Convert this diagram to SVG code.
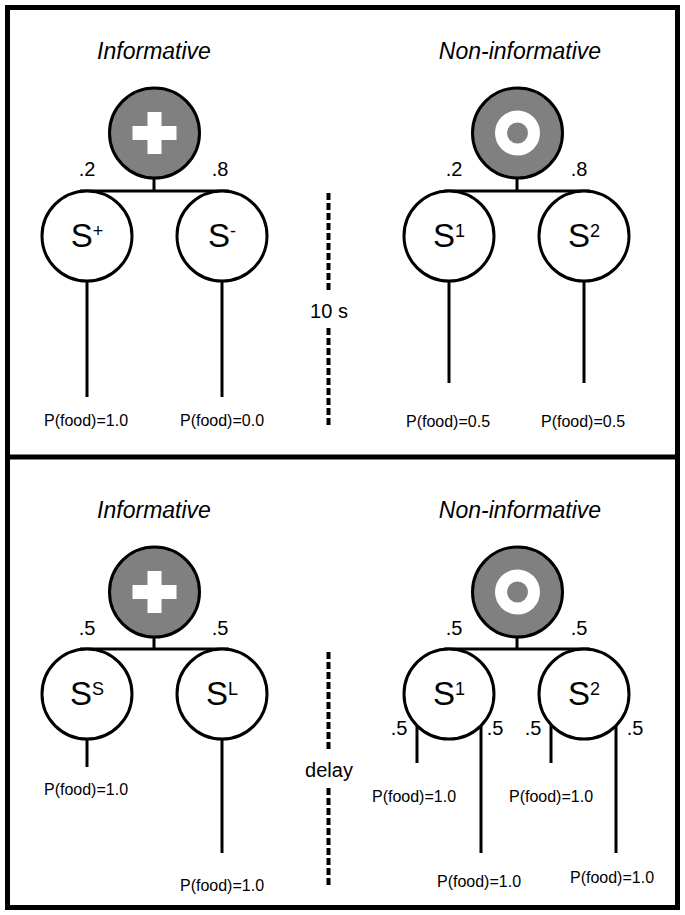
<svg xmlns="http://www.w3.org/2000/svg" width="685" height="915" viewBox="0 0 685 915">
<style>
  text { font-family: "Liberation Sans", Arial, sans-serif; fill: #000; }
  .title { font-size: 23px; font-style: italic; text-anchor: middle; }
  .prob { font-size: 20px; text-anchor: middle; }
  .food { font-size: 16px; text-anchor: middle; }
  .lbl { font-size: 33px; text-anchor: middle; }
  .sup { font-size: 18px; }
  .mid { font-size: 20px; text-anchor: middle; }
  .node { fill: #fff; stroke: #000; stroke-width: 3; }
  .start { fill: #808080; stroke: #000; stroke-width: 3; }
  .conn line { stroke: #000; stroke-width: 3; fill: none; }
  .dash { stroke: #000; stroke-width: 4; stroke-dasharray: 7 3; }
</style>
<rect x="0" y="0" width="685" height="915" fill="#fff"/>
<rect x="7.5" y="7.5" width="670" height="900" fill="none" stroke="#000" stroke-width="5"/>
<line x1="5" y1="457" x2="680" y2="457" stroke="#000" stroke-width="5"/>

<!-- connectors -->
<g class="conn" id="connectors">
  <!-- top left -->
  <line x1="154" y1="178" x2="154" y2="191"/>
  <line x1="80" y1="191" x2="229" y2="191"/>
  <line x1="87" y1="281" x2="87" y2="397"/>
  <line x1="222" y1="281" x2="222" y2="397"/>
  <!-- top right -->
  <line x1="517" y1="178" x2="517" y2="191"/>
  <line x1="444" y1="191" x2="590" y2="191"/>
  <line x1="449" y1="281" x2="449" y2="383"/>
  <line x1="584" y1="281" x2="584" y2="383"/>
  <!-- bottom left -->
  <line x1="154" y1="637" x2="154" y2="649"/>
  <line x1="80" y1="649" x2="229" y2="649"/>
  <line x1="87" y1="739" x2="87" y2="767"/>
  <line x1="222" y1="739" x2="222" y2="853"/>
  <!-- bottom right -->
  <line x1="517" y1="637" x2="517" y2="649"/>
  <line x1="444" y1="649" x2="590" y2="649"/>
  <line x1="417" y1="725" x2="417" y2="763"/>
  <line x1="481" y1="725" x2="481" y2="853"/>
  <line x1="551" y1="725" x2="551" y2="763"/>
  <line x1="616" y1="725" x2="616" y2="853"/>
</g>

<!-- separators -->
<g id="sep-top">
  <line class="dash" x1="328.5" y1="193" x2="328.5" y2="290"/>
  <line class="dash" x1="328.5" y1="328" x2="328.5" y2="427"/>
  <text class="mid" x="329" y="318">10 s</text>
</g>
<g id="sep-bottom">
  <line class="dash" x1="328.5" y1="652" x2="328.5" y2="749"/>
  <line class="dash" x1="328.5" y1="788" x2="328.5" y2="886"/>
  <text class="mid" x="329" y="777">delay</text>
</g>

<!-- TOP LEFT -->
<text class="title" x="154" y="59">Informative</text>
<g id="tl-start">
  <circle class="start" cx="154.5" cy="133" r="45"/>
  <rect x="147.5" y="112" width="14" height="42" fill="#fff"/>
  <rect x="132.5" y="126" width="44" height="14" fill="#fff"/>
</g>
<text class="prob" x="87" y="176">.2</text>
<text class="prob" x="220" y="176">.8</text>
<g id="tl-splus">
  <circle class="node" cx="87" cy="236" r="45"/>
  <text class="lbl" x="87" y="247">S<tspan class="sup" dy="-10">+</tspan></text>
</g>
<g id="tl-sminus">
  <circle class="node" cx="222" cy="236" r="45"/>
  <text class="lbl" x="222" y="247">S<tspan class="sup" dy="-10">-</tspan></text>
</g>
<text class="food" x="86" y="426">P(food)=1.0</text>
<text class="food" x="222" y="426">P(food)=0.0</text>

<!-- TOP RIGHT -->
<text class="title" x="520" y="59">Non-informative</text>
<g id="tr-start">
  <circle class="start" cx="517.5" cy="133" r="45"/>
  <circle cx="517.5" cy="133" r="16.5" fill="none" stroke="#fff" stroke-width="12"/>
</g>
<text class="prob" x="454" y="176">.2</text>
<text class="prob" x="579" y="176">.8</text>
<g id="tr-s1">
  <circle class="node" cx="449" cy="236" r="45"/>
  <text class="lbl" x="449" y="247">S<tspan class="sup" dy="-10">1</tspan></text>
</g>
<g id="tr-s2">
  <circle class="node" cx="584" cy="236" r="45"/>
  <text class="lbl" x="584" y="247">S<tspan class="sup" dy="-10">2</tspan></text>
</g>
<text class="food" x="448" y="427">P(food)=0.5</text>
<text class="food" x="583" y="427">P(food)=0.5</text>

<!-- BOTTOM LEFT -->
<text class="title" x="154" y="518">Informative</text>
<g id="bl-start">
  <circle class="start" cx="154.5" cy="592" r="45"/>
  <rect x="147.5" y="571" width="14" height="42" fill="#fff"/>
  <rect x="132.5" y="585" width="44" height="14" fill="#fff"/>
</g>
<text class="prob" x="87" y="635">.5</text>
<text class="prob" x="220" y="635">.5</text>
<g id="bl-ss">
  <circle class="node" cx="87" cy="694" r="45"/>
  <text class="lbl" x="87" y="705">S<tspan class="sup" dy="-10">S</tspan></text>
</g>
<g id="bl-sl">
  <circle class="node" cx="222" cy="694" r="45"/>
  <text class="lbl" x="222" y="705">S<tspan class="sup" dy="-10">L</tspan></text>
</g>
<text class="food" x="86" y="795">P(food)=1.0</text>
<text class="food" x="222" y="891">P(food)=1.0</text>

<!-- BOTTOM RIGHT -->
<text class="title" x="520" y="518">Non-informative</text>
<g id="br-start">
  <circle class="start" cx="517.5" cy="592" r="45"/>
  <circle cx="517.5" cy="592" r="16.5" fill="none" stroke="#fff" stroke-width="12"/>
</g>
<text class="prob" x="454" y="635">.5</text>
<text class="prob" x="579" y="635">.5</text>
<g id="br-s1">
  <circle class="node" cx="449" cy="694" r="45"/>
  <text class="lbl" x="449" y="705">S<tspan class="sup" dy="-10">1</tspan></text>
</g>
<g id="br-s2">
  <circle class="node" cx="584" cy="694" r="45"/>
  <text class="lbl" x="584" y="705">S<tspan class="sup" dy="-10">2</tspan></text>
</g>
<text class="prob" x="399" y="735">.5</text>
<text class="prob" x="495" y="735">.5</text>
<text class="prob" x="533" y="735">.5</text>
<text class="prob" x="635" y="735">.5</text>
<text class="food" x="414" y="802">P(food)=1.0</text>
<text class="food" x="551" y="802">P(food)=1.0</text>
<text class="food" x="479" y="887">P(food)=1.0</text>
<text class="food" x="612" y="883">P(food)=1.0</text>
</svg>
